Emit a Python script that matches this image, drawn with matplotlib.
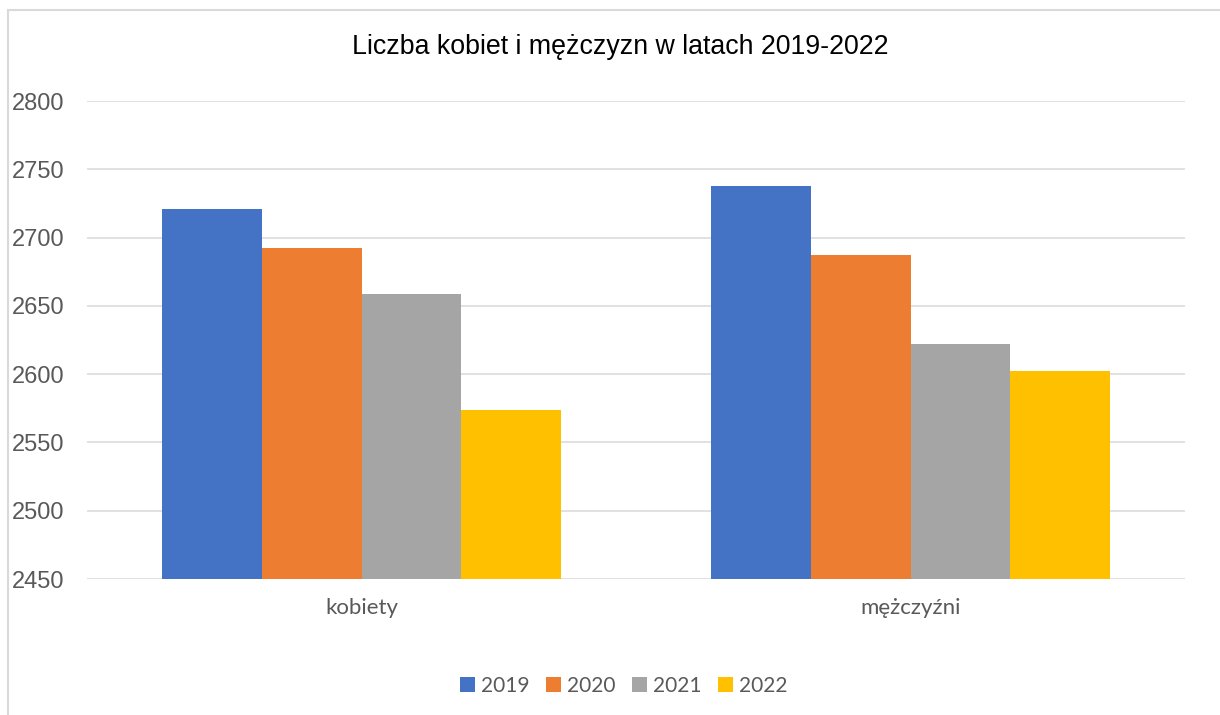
import matplotlib

matplotlib.use("Agg")

import matplotlib.pyplot as plt
import numpy as np
from matplotlib.patches import Rectangle

categories = ["kobiety", "mężczyźni"]
years = ["2019", "2020", "2021", "2022"]
values = {
    "2019": [2721, 2738],
    "2020": [2692, 2687],
    "2021": [2659, 2622],
    "2022": [2574, 2602],
}
colors = ["#4472C4", "#ED7D31", "#A5A5A5", "#FFC000"]
y_ticks = [2450, 2500, 2550, 2600, 2650, 2700, 2750, 2800]

fig = plt.figure(figsize=(12.2, 7.15), dpi=100)
ax = fig.add_axes([87 / 1220, 1 - 579 / 715, (1185 - 87) / 1220, (579 - 101) / 715])

# outer chart frame (cut at right/bottom like the screenshot)
fig.patches.append(Rectangle((8 / 1220, -0.1), 1.2, 1 - 10 / 715 + 0.1,
                             transform=fig.transFigure, fill=False,
                             edgecolor="#d9d9d9", lw=1.5))

x = np.arange(len(categories))
width = 0.182
for i, (yr, col) in enumerate(zip(years, colors)):
    ax.bar(x + (i - 1.5) * width, np.array(values[yr]) - 2450, width,
           bottom=2450, color=col, label=yr, zorder=3)

ax.set_xlim(-0.5, 1.5)
ax.set_ylim(2450, 2800)
ax.set_yticks(y_ticks)
ax.set_yticklabels([str(t) for t in y_ticks], fontsize=17,
                   family="Liberation Sans", color="#595959")
ax.set_xticks(x)
ax.set_xticklabels(categories, fontsize=16, family="Lato", color="#595959")
ax.tick_params(axis="both", length=0)
ax.tick_params(axis="y", pad=16)
ax.tick_params(axis="x", pad=14)
ax.grid(axis="y", color="#d9d9d9", lw=1.1, zorder=0)
for s in ax.spines.values():
    s.set_visible(False)

fig.text(620 / 1220, 1 - 47 / 715, "Liczba kobiet i mężczyzn w latach 2019-2022",
         ha="center", va="center", fontsize=19.3, family="Liberation Sans",
         color="black")

leg = fig.legend(loc="center", bbox_to_anchor=(624 / 1220, 1 - 686 / 715), ncol=4,
                 frameon=False, prop={"family": "Lato", "size": 15},
                 handlelength=0.7, handleheight=0.7, handletextpad=0.3,
                 columnspacing=0.8)
for t in leg.get_texts():
    t.set_color("#595959")

fig.savefig("out.png", dpi=100)
